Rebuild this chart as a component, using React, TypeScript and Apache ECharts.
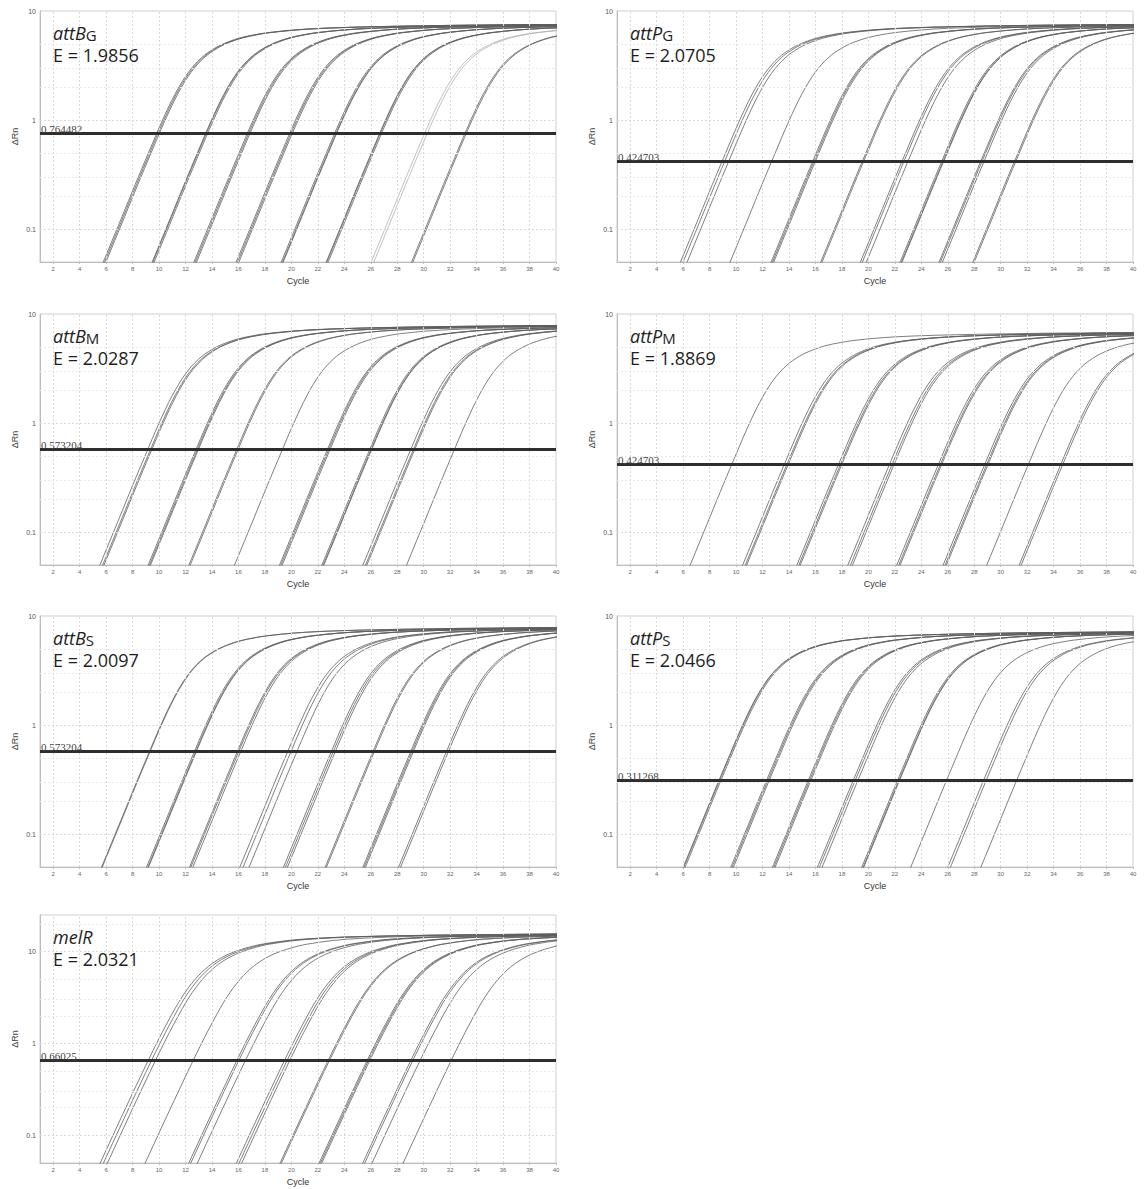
import React, { useEffect, useRef } from "react";
import * as echarts from "echarts";

// ---- axis ticks ----
const CYCLE_TICKS = [2, 4, 6, 8, 10, 12, 14, 16, 18, 20, 22, 24, 26, 28, 30, 32, 34, 36, 38, 40];
const DECADE_LINES = [0.1, 1, 10];
const MINOR_LINES = [0.2, 0.3, 0.5, 2, 3, 5, 20];

// ---- shared amplification curve shape read from the first attB(G) curve ----
// offset (cycles) from the point where the exponential phase passes ΔRn = 1
const SHAPE_DX = [-7, -6, -5, -4, -3, -2, -1, 0, 1, 2, 3, 4, 5, 6, 7, 8, 10, 12, 15, 20, 25, 32];
const SHAPE_Y = [0.0086, 0.017, 0.0336, 0.066, 0.13, 0.257, 0.5, 0.96, 1.72, 2.72, 3.72, 4.55, 5.2, 5.7, 6.05, 6.33, 6.7, 6.93, 7.13, 7.33, 7.45, 7.55];
const SHAPE_SLOPE = 0.295; // decades per cycle in the exponential phase
// melR curve shape (higher plateau)
const MELR_SHAPE_Y = [0.0068, 0.0138, 0.028, 0.057, 0.117, 0.238, 0.48, 0.95, 1.8, 3.2, 5.0, 6.9, 8.6, 10.0, 11.1, 12.0, 13.2, 13.9, 14.5, 15.0, 15.3, 15.6];
const MELR_SLOPE = 0.31;

// ---- panels ----
const GENE_NAMES = ["attB", "attP", "attB", "attP", "attB", "attP", "melR"];
const GENE_SUBS = ["G", "G", "M", "M", "S", "S", ""];
const EFFICIENCY = ["1.9856", "2.0705", "2.0287", "1.8869", "2.0097", "2.0466", "2.0321"];
const THRESHOLDS = [0.764482, 0.424703, 0.573204, 0.424703, 0.573204, 0.311268, 0.66025];
const PLATEAU_SCALE = [1.0, 1.0, 1.04, 0.9, 1.04, 0.95, 1.0];
const Y_MAX = [10, 10, 10, 10, 10, 10, 25];

// threshold cycles (Ct) of every curve
const attBG_ct = [9.8, 9.9, 10.0, 13.5, 13.55, 13.65, 16.65, 16.75, 16.85, 19.85, 19.95, 20.05, 23.25, 23.35, 23.4, 26.65, 26.7, 26.8, 33.1, 33.2];
const attBG_ctFaint = [30.05, 30.25];
const attPG_ct = [8.95, 9.15, 9.45, 12.7, 15.8, 15.9, 16.0, 19.55, 19.65, 22.55, 22.7, 23.0, 25.55, 25.65, 25.7, 28.5, 28.6, 28.75, 31.05, 31.15];
const attBM_ct = [9.12, 9.33, 9.43, 12.77, 12.87, 12.95, 15.85, 15.95, 19.3, 22.7, 22.8, 22.9, 25.9, 26.0, 26.05, 29.0, 29.2, 29.3, 32.3];
const attPM_ct = [9.68, 13.65, 13.85, 13.95, 17.75, 17.9, 18.0, 21.6, 21.8, 21.95, 25.3, 25.45, 25.55, 28.8, 28.95, 29.05, 32.1, 34.55, 34.7];
const attBS_ct = [9.25, 9.3, 12.65, 12.75, 12.8, 15.9, 16.0, 16.15, 19.7, 19.95, 20.4, 23.0, 23.15, 23.3, 26.15, 26.25, 29.0, 29.1, 29.2, 31.7, 31.85];
const attPS_ct = [8.7, 8.75, 8.85, 12.3, 12.4, 12.5, 15.45, 15.55, 15.65, 18.85, 19.0, 19.2, 22.2, 22.3, 22.35, 25.9, 28.7, 28.9, 31.2];
const melR_ct = [9.15, 9.4, 9.7, 12.55, 15.85, 16.0, 16.5, 19.45, 19.65, 19.85, 22.75, 22.85, 25.7, 25.8, 25.9, 29.0, 29.15, 29.7, 32.05];

const PANEL_CTS = [attBG_ct, attPG_ct, attBM_ct, attPM_ct, attBS_ct, attPS_ct, melR_ct];
const PANEL_FAINT_CTS = [attBG_ctFaint, [], [], [], [], [], []];

// ---- layout ----
const COL_LEFT = [40, 617];
const ROW_TOP = [11, 314, 616, 915];
const GRID_W = 516;
const GRID_H = [251, 251, 251, 251, 251, 251, 248];

export default function App() {
  const ref = useRef<HTMLDivElement>(null);

  useEffect(() => {
    if (!ref.current) return;
    const chart = echarts.init(ref.current, null, { renderer: "svg" });

    const grids: any[] = [];
    const xAxes: any[] = [];
    const yAxes: any[] = [];
    const series: any[] = [];
    const graphics: any[] = [];

    for (let p = 0; p < 7; p++) {
      const left = COL_LEFT[p % 2];
      const top = ROW_TOP[Math.floor(p / 2)];
      grids.push({
        left,
        top,
        width: GRID_W,
        height: GRID_H[p],
        show: true,
        borderColor: "#cfcfcf",
        borderWidth: 1,
        backgroundColor: "#fff",
      });
      xAxes.push({
        type: "value",
        gridIndex: p,
        min: 1,
        max: 40,
        name: "Cycle",
        nameLocation: "middle",
        nameGap: 14,
        nameTextStyle: { fontFamily: "Liberation Sans", fontSize: 9, color: "#333" },
        axisLine: { show: true, lineStyle: { color: "#bdbdbd" } },
        axisTick: { show: true, length: 2, lineStyle: { color: "#bdbdbd" }, customValues: CYCLE_TICKS },
        axisLabel: {
          customValues: CYCLE_TICKS,
          fontFamily: "Liberation Sans",
          fontSize: 6,
          color: "#666",
          margin: 4,
        },
        splitLine: { show: false },
      });
      yAxes.push({
        type: "log",
        logBase: 10,
        gridIndex: p,
        min: 0.05,
        max: Y_MAX[p],
        name: "ΔRn",
        nameLocation: "middle",
        nameGap: 21,
        nameTextStyle: { fontFamily: "Liberation Sans", fontSize: 9, color: "#444" },
        axisLine: { show: true, lineStyle: { color: "#bdbdbd" } },
        axisTick: { show: false },
        axisLabel: {
          fontFamily: "Liberation Sans",
          fontSize: 7,
          color: "#555",
          margin: 4,
          formatter: (v: number) => {
            const hit = DECADE_LINES.find((d) => Math.abs(d - v) / d < 1e-6);
            return hit !== undefined ? String(hit) : "";
          },
        },
        splitLine: { show: false },
      });

      // grid lines
      const minor = MINOR_LINES.filter((v) => v < Y_MAX[p]);
      series.push({
        type: "line",
        xAxisIndex: p,
        yAxisIndex: p,
        data: [],
        silent: true,
        z: 1,
        markLine: {
          silent: true,
          symbol: "none",
          animation: false,
          label: { show: false },
          lineStyle: { color: "#dadada", width: 1, type: [2, 2] },
          data: [
            ...CYCLE_TICKS.filter((v) => v < 40).map((v) => ({ xAxis: v })),
            ...DECADE_LINES.filter((v) => v < Y_MAX[p]).map((v) => ({ yAxis: v })),
            ...minor.map((v) => ({ yAxis: v, lineStyle: { color: "#e8e8e8", width: 1, type: [2, 2] } })),
          ],
        },
      });

      const shapeY = p === 6 ? MELR_SHAPE_Y : SHAPE_Y;
      const slope = p === 6 ? MELR_SLOPE : SHAPE_SLOPE;
      const s = PLATEAU_SCALE[p];
      const thr = THRESHOLDS[p];
      const offset = (Math.log10(s) - Math.log10(thr)) / slope;

      const addCurve = (ct: number, color: string) => {
        const start = ct + offset;
        series.push({
          type: "line",
          xAxisIndex: p,
          yAxisIndex: p,
          showSymbol: false,
          symbol: "none",
          smooth: 0.35,
          silent: true,
          clip: true,
          z: 2,
          lineStyle: { color, width: 0.8 },
          data: SHAPE_DX.map((d, k) => [start + d, s * shapeY[k]]),
        });
      };
      PANEL_CTS[p].forEach((ct) => addCurve(ct, "#5e5e5e"));
      PANEL_FAINT_CTS[p].forEach((ct) => addCurve(ct, "#b0b0b0"));

      // threshold
      series.push({
        type: "line",
        xAxisIndex: p,
        yAxisIndex: p,
        data: [],
        silent: true,
        z: 5,
        markLine: {
          silent: true,
          symbol: "none",
          animation: false,
          lineStyle: { color: "#2e2e2e", width: 3, type: "solid" },
          label: {
            show: true,
            position: "insideStartTop",
            distance: [1, -1],
            formatter: String(thr),
            fontFamily: "Liberation Serif",
            fontSize: 11,
            color: "#444",
          },
          data: [{ yAxis: thr }],
        },
      });

      // titles
      const sub = GENE_SUBS[p];
      graphics.push({
        type: "text",
        left: left + 13,
        top: top + 13,
        z: 10,
        style: {
          text: sub ? `{i|${GENE_NAMES[p]}}{s|${sub}}` : `{i|${GENE_NAMES[p]}}`,
          rich: {
            i: { fontFamily: "Open Sans", fontStyle: "italic", fontSize: 18, fill: "#1e1e1e", verticalAlign: "bottom", lineHeight: 22 },
            s: { fontFamily: "Open Sans", fontSize: 15, fill: "#1e1e1e", verticalAlign: "bottom", lineHeight: 20 },
          },
        },
      });
      graphics.push({
        type: "text",
        left: left + 13,
        top: top + 35,
        z: 10,
        style: {
          text: "E = " + EFFICIENCY[p],
          fontFamily: "Open Sans",
          fontSize: 18,
          fill: "#1e1e1e",
        },
      });
    }

    chart.setOption({
      animation: false,
      backgroundColor: "#ffffff",
      grid: grids,
      xAxis: xAxes,
      yAxis: yAxes,
      series,
      graphic: graphics,
    });

    return () => chart.dispose();
  }, []);

  return (
    <div
      ref={ref}
      style={{ position: "absolute", left: 0, top: 0, width: 1146, height: 1189, background: "#fff" }}
    />
  );
}
